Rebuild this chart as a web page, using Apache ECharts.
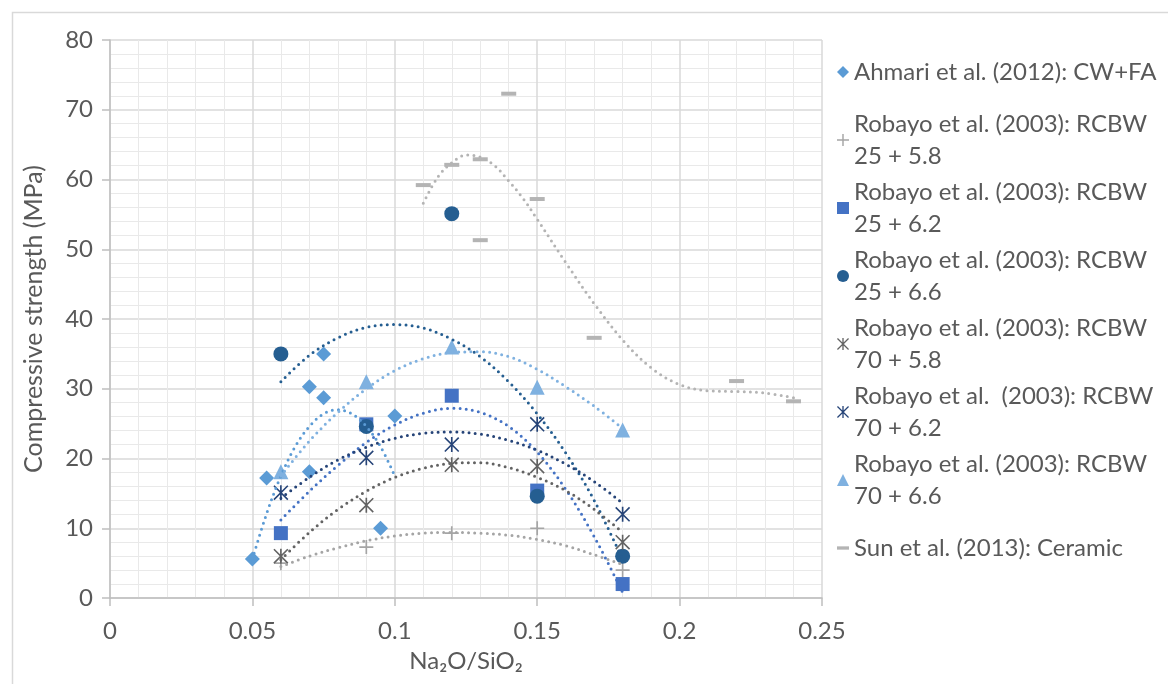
<!DOCTYPE html>
<html><head><meta charset="utf-8">
<script src="https://cdn.jsdelivr.net/npm/echarts@6/dist/echarts.min.js"></script>
<style>html,body{margin:0;padding:0;background:#fff}#c{width:1168px;height:684px}</style>
</head><body><div id="c"></div>
<script>
// ---- data ----
const seriesNames = [
  'Ahmari et al. (2012): CW+FA',
  'Robayo et al. (2003): RCBW\n25 + 5.8',
  'Robayo et al. (2003): RCBW\n25 + 6.2',
  'Robayo et al. (2003): RCBW\n25 + 6.6',
  'Robayo et al. (2003): RCBW\n70 + 5.8',
  'Robayo et al.  (2003): RCBW\n70 + 6.2',
  'Robayo et al. (2003): RCBW\n70 + 6.6',
  'Sun et al. (2013): Ceramic'
];
const ahmariX = [0.05, 0.055, 0.07, 0.075, 0.075, 0.07, 0.095, 0.10];
const ahmariY = [5.6, 17.2, 30.3, 35.0, 28.7, 18.1, 10.0, 26.1];
const robayoX = [0.06, 0.09, 0.12, 0.15, 0.18];
const r25_58 = [5.0, 7.3, 9.3, 10.0, 4.0];
const r25_62 = [9.3, 24.9, 29.0, 15.4, 2.0];
const r25_66 = [35.0, 24.6, 55.1, 14.6, 6.0];
const r70_58 = [6.0, 13.3, 19.1, 18.9, 8.0];
const r70_62 = [15.1, 20.1, 22.0, 24.9, 12.0];
const r70_66 = [18.1, 31.0, 36.0, 30.2, 24.1];
const sunX = [0.11, 0.12, 0.13, 0.13, 0.14, 0.15, 0.17, 0.22, 0.24];
const sunY = [59.2, 62.1, 62.9, 51.3, 72.3, 57.2, 37.3, 31.1, 28.2];

// trendlines (dotted curves)
const tAhmariX = [0.05, 0.055, 0.06, 0.065, 0.07, 0.075, 0.08, 0.085, 0.09, 0.095, 0.10];
const tAhmariY = [5.6, 12.1, 17.5, 21.7, 24.6, 26.4, 27.0, 26.4, 24.6, 21.7, 17.5];
const tStepX = [0.06, 0.07, 0.08, 0.09, 0.10, 0.11, 0.12, 0.13, 0.14, 0.15, 0.16, 0.17, 0.18];
const t25_58 = [4.5, 6.0, 7.2, 8.2, 8.9, 9.3, 9.4, 9.3, 9.0, 8.4, 7.5, 6.2, 4.8];
const t25_62 = [11.2, 15.3, 19.0, 22.3, 24.8, 26.5, 27.2, 26.6, 24.6, 20.9, 15.6, 8.8, 0.8];
const t25_66 = [31.0, 34.8, 37.3, 38.8, 39.2, 38.7, 37.1, 34.6, 31.0, 26.4, 20.8, 14.0, 5.5];
const t70_58 = [5.5, 9.4, 12.7, 15.3, 17.3, 18.6, 19.3, 19.4, 18.7, 17.3, 15.4, 12.7, 9.4];
const t70_62 = [14.3, 17.3, 19.8, 21.6, 22.9, 23.6, 23.8, 23.5, 22.6, 21.2, 19.2, 16.7, 13.6];
const t70_66 = [17.5, 22.5, 26.6, 30.0, 32.6, 34.3, 35.2, 35.3, 34.6, 32.8, 30.3, 27.5, 24.3];
const tSunX = [0.11, 0.115, 0.12, 0.125, 0.13, 0.135, 0.14, 0.145, 0.15, 0.16, 0.17, 0.18, 0.19, 0.20, 0.21, 0.22, 0.23, 0.24];
const tSunY = [56.6, 60.3, 62.4, 63.5, 63.2, 62.0, 59.8, 57.3, 54.3, 48.1, 42.2, 37.0, 33.0, 30.6, 29.7, 29.6, 29.4, 28.7];

const xTicks = { min: 0, max: 0.25, interval: 0.05 };
const yTicks = { min: 0, max: 80, interval: 10 };

// ---- styles ----
const FONT = 'Lato';
const colors = ['#5B9BD5', '#A5A5A5', '#4472C4', '#255E91', '#636363', '#264478', '#7FB1E0', '#B4B4B4'];
const plusPath = 'path://M0,8.8H20V11.2H0Z M8.8,0H11.2V20H8.8Z';
const starPath = 'path://M8.9,0H11.1V20H8.9Z M0,1.5L1.5,0L20,18.5L18.5,20Z M18.5,0L20,1.5L1.5,20L0,18.5Z';
const dashPath = 'path://M0,0H40V11H0Z';
const symbols = ['diamond', plusPath, 'rect', 'circle', starPath, starPath, 'triangle', dashPath];
const sizes = [15, 14, 14, 15, 15, 15, 15, [15, 4]];

const zip = (xs, ys) => xs.map((x, i) => [x, ys[i]]);
const pointSets = [
  zip(ahmariX, ahmariY), zip(robayoX, r25_58), zip(robayoX, r25_62), zip(robayoX, r25_66),
  zip(robayoX, r70_58), zip(robayoX, r70_62), zip(robayoX, r70_66), zip(sunX, sunY)
];
const trendSets = [
  zip(tAhmariX, tAhmariY), zip(tStepX, t25_58), zip(tStepX, t25_62), zip(tStepX, t25_66),
  zip(tStepX, t70_58), zip(tStepX, t70_62), zip(tStepX, t70_66), zip(tSunX, tSunY)
];

const series = [];
pointSets.forEach((d, i) => {
  series.push({
    name: seriesNames[i], type: 'scatter', data: d,
    symbol: symbols[i], symbolSize: sizes[i],
    itemStyle: { color: colors[i], opacity: 1 },
    z: 3
  });
});
trendSets.forEach((d, i) => {
  series.push({
    name: 'trend' + i, type: 'line', data: d, smooth: 0.35,
    showSymbol: false, symbol: 'none', silent: true,
    lineStyle: { color: colors[i], width: 3, type: [0, 6.2], cap: 'round' },
    z: 4
  });
});

const chart = echarts.init(document.getElementById('c'), null, { renderer: 'canvas' });
chart.setOption({
  backgroundColor: '#ffffff',
  animation: false,
  graphic: [{
    type: 'rect', left: 10, top: 10, silent: true,
    shape: { width: 1200, height: 700 },
    style: { fill: 'none', stroke: '#d9d9d9', lineWidth: 1.5 }
  }],
  grid: { left: 110, right: 346, top: 40, bottom: 86, outerBoundsMode: 'none', containLabel: false },
  xAxis: {
    type: 'value', min: xTicks.min, max: xTicks.max, interval: xTicks.interval,
    name: 'Na\u2082O/SiO\u2082', nameLocation: 'middle', nameGap: 51,
    nameTextStyle: { fontFamily: FONT, fontSize: 24, color: '#595959' },
    axisLine: { show: true, lineStyle: { color: '#bfbfbf', width: 1.5 } },
    axisTick: { show: true, length: 8, lineStyle: { color: '#bfbfbf', width: 1.5 } },
    axisLabel: { fontFamily: FONT, fontSize: 24, color: '#595959', margin: 21 },
    splitLine: { show: true, lineStyle: { color: '#d9d9d9', width: 1.5 } },
    minorTick: { show: false, splitNumber: 5 },
    minorSplitLine: { show: true, lineStyle: { color: '#e9e9e9', width: 1 } }
  },
  yAxis: {
    type: 'value', min: yTicks.min, max: yTicks.max, interval: yTicks.interval,
    name: 'Compressive strength (MPa)', nameLocation: 'middle', nameGap: 64,
    nameTextStyle: { fontFamily: FONT, fontSize: 25, color: '#595959' },
    axisLine: { show: true, lineStyle: { color: '#bfbfbf', width: 1.5 } },
    axisTick: { show: true, length: 8, lineStyle: { color: '#bfbfbf', width: 1.5 } },
    axisLabel: { fontFamily: FONT, fontSize: 24, color: '#595959', margin: 17 },
    splitLine: { show: true, lineStyle: { color: '#d9d9d9', width: 1.5 } },
    minorTick: { show: false, splitNumber: 5 },
    minorSplitLine: { show: true, lineStyle: { color: '#e9e9e9', width: 1 } }
  },
  legend: {
    orient: 'vertical', left: 837, top: 24, padding: 0, itemGap: -28,
    itemWidth: 12, itemHeight: 12, selectedMode: false,
    textStyle: { fontFamily: FONT, fontSize: 24, color: '#595959', lineHeight: 32, padding: [32, 0, 0, 0] },
    data: seriesNames.map((n, i) => (i === 0 || i === 7)
      ? { name: n, textStyle: { padding: [32, 0, 32, 0] } }
      : { name: n })
  },
  series: series
});
</script>
</body></html>
